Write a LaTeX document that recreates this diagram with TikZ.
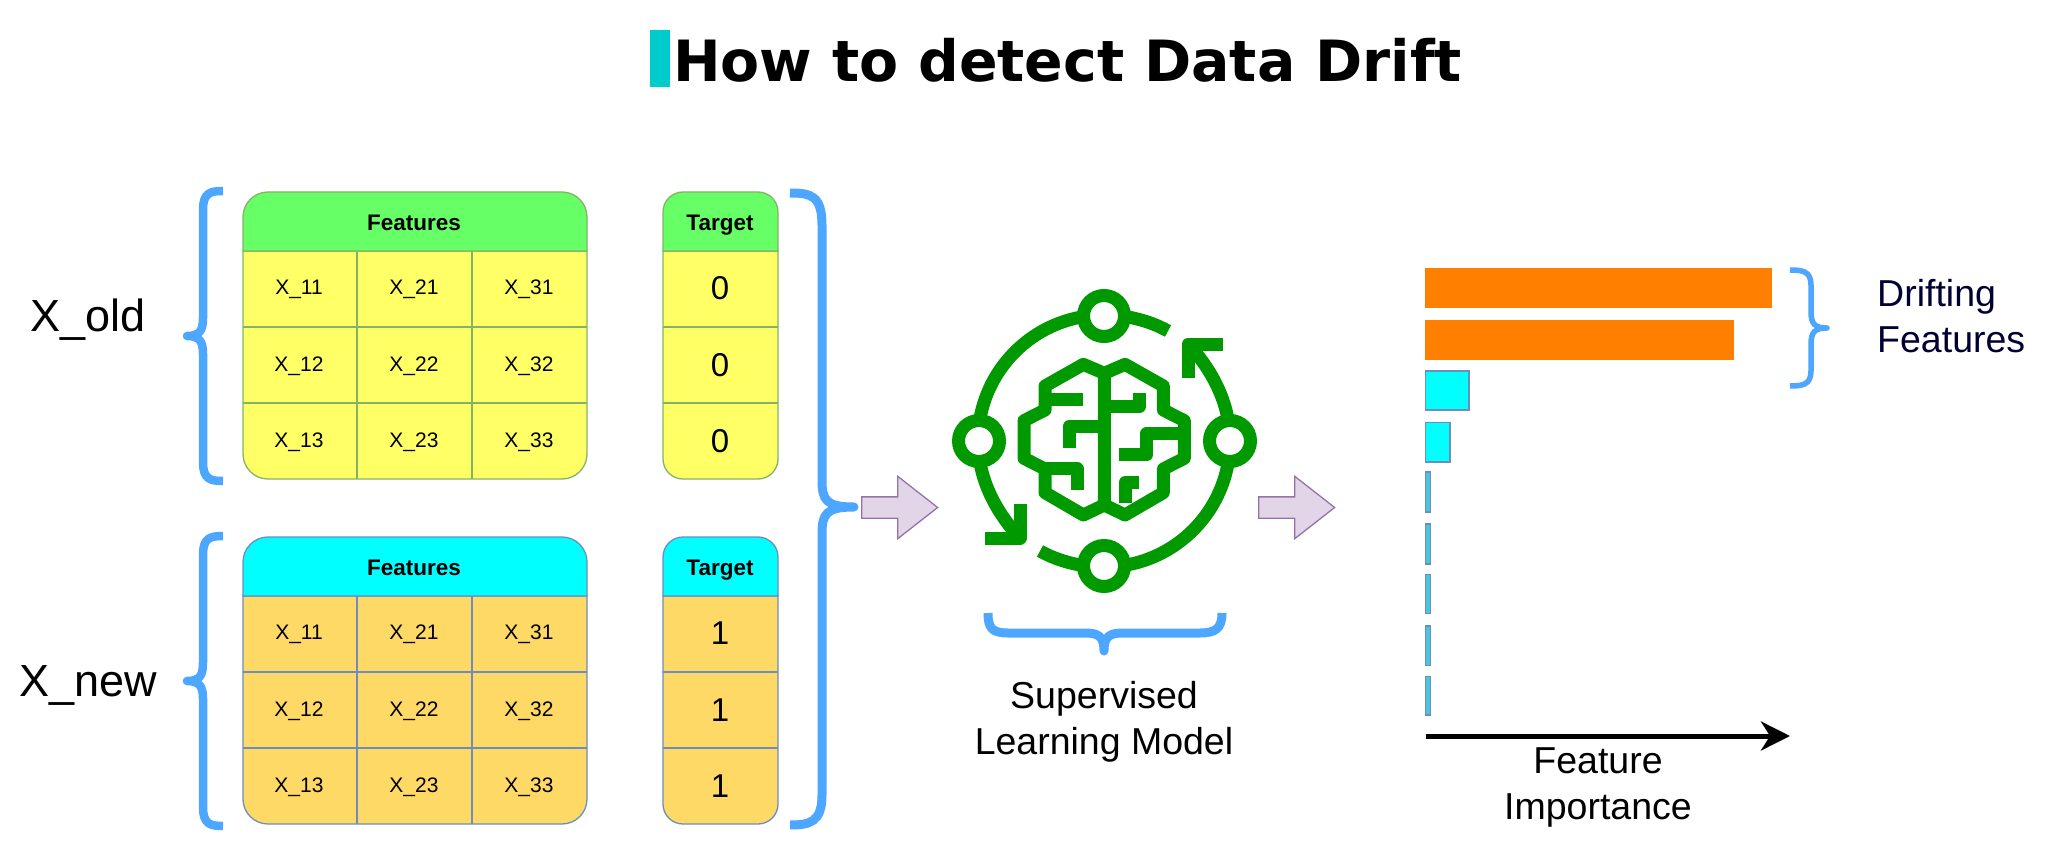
\documentclass[tikz,border=0pt]{standalone}
\usepackage{fontspec}
\setmainfont{Liberation Sans}
\newfontfamily\titlefont{DejaVu Sans}
\usetikzlibrary{arrows.meta,shapes.arrows}
\definecolor{bracecol}{HTML}{4DA6FF}
\definecolor{brain}{HTML}{009900}
\definecolor{oldhead}{HTML}{66FF66}
\definecolor{oldbody}{HTML}{FFFF66}
\definecolor{oldline}{HTML}{82B366}
\definecolor{newhead}{HTML}{00FFFF}
\definecolor{newbody}{HTML}{FFD966}
\definecolor{newline}{HTML}{6C8EBF}
\definecolor{arrowfill}{HTML}{E1D5E7}
\definecolor{arrowline}{HTML}{9673A6}
\definecolor{barorange}{HTML}{FF8000}
\definecolor{thinbar}{HTML}{4DC3E0}
\definecolor{titlebar}{HTML}{00CCCC}
\definecolor{navy}{HTML}{000033}
\newcommand{\fs}[1]{\fontsize{#1}{#1}\selectfont}
\tikzset{
  x=1pt,y=-1pt,
  bracket/.style={draw=bracecol,line width=8.5pt,line join=round,line cap=butt},
  cell/.style={inner sep=0pt,font=\fs{21}},
  headtxt/.style={inner sep=0pt,font=\fs{22.5}\bfseries},
  tgt/.style={inner sep=0pt,font=\fs{33}},
  big/.style={inner sep=0pt,font=\fs{45}},
  lab/.style={inner sep=0pt,align=center,font=\fontsize{37.5}{46}\selectfont},
  blockarrow/.style={shape=single arrow,fill=arrowfill,draw=arrowline,line width=1.3pt,inner xsep=0pt,inner ysep=10pt,
    minimum width=61pt,minimum height=76pt,single arrow head extend=20.5pt,
    single arrow tip angle=76,single arrow head indent=0pt,anchor=tail},
  brainline/.style={draw=brain,line width=13pt,line join=round,line cap=butt},
  bar/.style={line width=1.3pt},
}
\newcommand{\datatable}[5]{% y offset, head colour, body colour, line colour, prefix
  \begin{scope}[yshift=-#1pt,draw=#4,line width=1.3pt]
    \path[fill=#3,draw=#4] (243,251) -- (587,251) -- (587,454) [rounded corners=25pt] -- (587,479) -- (243,479) [sharp corners] -- (243,454) -- cycle;
    \path[fill=#2,draw=#4,rounded corners=25pt] (243,251) -- (243,192) -- (587,192) [sharp corners] -- (587,251) -- cycle;
    \draw[#4] (243,327) -- (587,327) (243,403) -- (587,403) (357,251) -- (357,479) (472,251) -- (472,479);
    \path[fill=#3,draw=#4] (663,251) -- (778,251) -- (778,454) [rounded corners=20pt] -- (778,479) -- (663,479) [sharp corners] -- (663,454) -- cycle;
    \path[fill=#2,draw=#4,rounded corners=20pt] (663,251) -- (663,192) -- (778,192) [sharp corners] -- (778,251) -- cycle;
    \draw[#4] (663,327) -- (778,327) (663,403) -- (778,403);
    \node[headtxt] (#5feat) at (414,223) {Features};
    \node[headtxt] (#5targ) at (720,225) {Target};
    \foreach \r/\yy in {1/289,2/366,3/442}{
      \node[cell] (#5c1\r) at (299,\yy) {X\_1\r};
      \node[cell] (#5c2\r) at (414,\yy) {X\_2\r};
      \node[cell] (#5c3\r) at (529,\yy) {X\_3\r};
    }
  \end{scope}}
\begin{document}
\begin{tikzpicture}
\useasboundingbox (0,0) rectangle (2048,850);
% title
\fill[titlebar] (650,30) rectangle (670,87);
\node[inner sep=0pt,anchor=base west,font=\titlefont\bfseries\fs{56.9}] (title) at (673,82) {How to detect Data Drift};
% tables
\datatable{0}{oldhead}{oldbody}{oldline}{a}
\datatable{345}{newhead}{newbody}{newline}{b}
\foreach \yy/\n in {288/1,365/2,441/3}{\node[tgt] (at\n) at (720,\yy) {0};}
\foreach \yy/\n in {633/1,710/2,786/3}{\node[tgt] (bt\n) at (720,\yy) {1};}
% left labels
\node[big] (xold) at (88,320) {X\_old};
\node[big] (xnew) at (88,685) {X\_new};
% left braces
\draw[bracket] (223,191) .. controls (210,191) and (203,193) .. (203,210) -- (203,318) .. controls (203,330) and (200,336) .. (187,336) .. controls (200,336) and (203,342) .. (203,354) -- (203,462) .. controls (203,479) and (210,481) .. (223,481);
\draw[bracket] (223,536) .. controls (210,536) and (203,538) .. (203,555) -- (203,663) .. controls (203,675) and (200,681) .. (187,681) .. controls (200,681) and (203,687) .. (203,699) -- (203,807) .. controls (203,824) and (210,826) .. (223,826);
% big right brace
\draw[bracket,line width=9pt] (790,193) .. controls (810,193) and (822,195) .. (822,225) -- (822,480) .. controls (822,500) and (826,507) .. (854,507) .. controls (826,507) and (822,514) .. (822,534) -- (822,795) .. controls (822,822) and (810,825) .. (790,825);
% block arrows
\node[blockarrow] (arrow1) at (861,507.5) {};
\node[blockarrow] (arrow2) at (1258,507.5) {};
% brain icon
\begin{scope}[brainline]
  % ring arcs (centre 1104,441; radius 126)
  \draw (1104,315) .. controls (1034.4,315) and (978,371.4) .. (978,441);
  \draw (978,441) .. controls (978,474) and (992,508) .. (1020,538);
  \draw (1104,567) .. controls (1080,567) and (1058,561) .. (1040,551);
  \draw (1230,441) .. controls (1230,510.6) and (1173.6,567) .. (1104,567);
  \draw (1230,441) .. controls (1230,408) and (1216,374) .. (1188,344);
  \draw (1104,315) .. controls (1128,315) and (1150,321) .. (1168,331);
  % arrowheads
  \draw (1223,344) -- (1188,344) -- (1188,378);
  \draw (985,538) -- (1020,538) -- (1020,504);
\end{scope}
\foreach \cx/\cy in {1104/316,979/441,1230/441,1104/566}{
  \draw[draw=brain,fill=white,line width=13pt] (\cx,\cy) circle[radius=20.5pt];
}
\begin{scope}[shift={(920,270)},x=0.33333pt,y=-0.33333pt,brainline]
  \draw (553,705) -- (553,310) -- (490,283) -- (375,348) -- (375,420) -- (312,452) -- (312,565) -- (375,597) -- (375,668) -- (490,735) -- (553,705) -- (615,735) -- (730,668) -- (730,597) -- (793,565) -- (793,452) -- (730,420) -- (730,348) -- (615,283) -- (553,310);
  \draw (375,388) -- (490,388);
  \draw (553,470) -- (447,470) -- (447,533);
  \draw (375,597) -- (472,597) -- (472,660);
  \draw (553,410) -- (658,410) -- (658,368);
  \draw (793,490) -- (680,490) -- (680,555) -- (597,555);
  \draw (615,700) -- (615,638) -- (658,638);
\end{scope}
% brace under model
\draw[bracket,line width=9pt] (988,613) .. controls (988,628) and (992,633) .. (1008,633) -- (1085,633) .. controls (1098,633) and (1104,636) .. (1104,651) .. controls (1104,636) and (1110,633) .. (1123,633) -- (1200,633) .. controls (1216,633) and (1222,628) .. (1222,613);
\node[lab] (model) at (1104,722) {Supervised\\Learning Model};
% bars
\fill[barorange] (1425,268) rectangle (1772,308);
\fill[barorange] (1425,320) rectangle (1734,360);
\draw[bar,fill=newhead,draw=newline] (1425.5,371) rectangle (1469,410);
\draw[bar,fill=newhead,draw=newline] (1425.5,422.5) rectangle (1450,462);
\foreach \ya/\yb in {472/512,524/564,574.5/613.5,626/665.5,676.5/715}{
  \draw[bar,fill=thinbar,draw=newline] (1425.5,\ya) rectangle (1430.5,\yb);
}
% brace for drifting features
\draw[bracket,line width=5.5pt] (1790,270) .. controls (1802,270) and (1811,271) .. (1811,285) -- (1811,312) .. controls (1811,324) and (1815,328) .. (1827,328) .. controls (1815,328) and (1811,332) .. (1811,344) -- (1811,371) .. controls (1811,385) and (1802,386) .. (1790,386);
\node[lab,text=navy,align=left,anchor=west] (drift) at (1877,316) {Drifting\\Features};
% axis
\coordinate (axa) at (1426,736);
\coordinate (axb) at (1790,736);
\draw[line width=5pt,-{Stealth[length=29pt,width=29pt,inset=9pt]}] (axa) -- (axb);
\node[lab] (imp) at (1598,787) {Feature\\Importance};
\end{tikzpicture}
\end{document}
